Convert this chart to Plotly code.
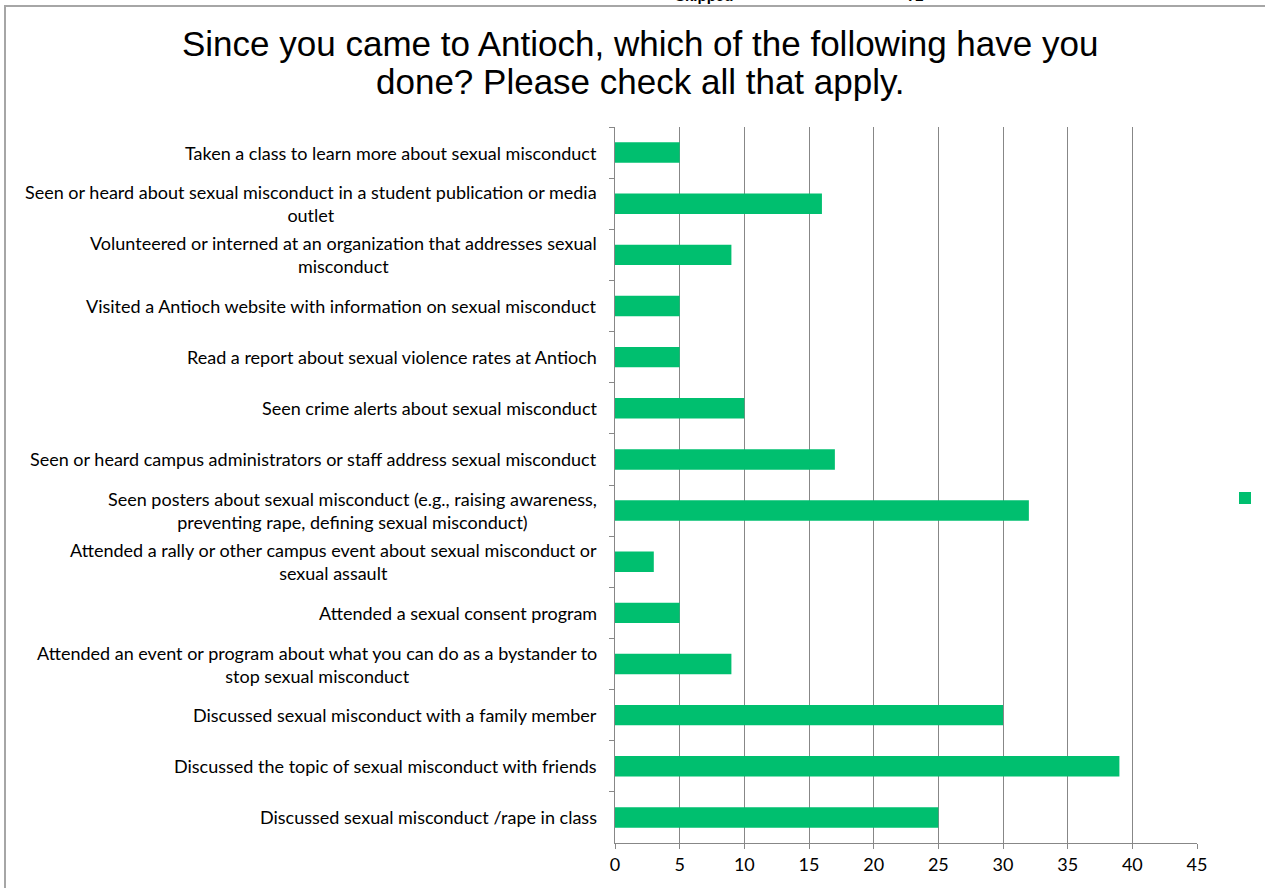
import plotly.graph_objects as go

categories = [
    "Taken a class to learn more about sexual misconduct",
    "Seen or heard about sexual misconduct in a student publication or media<br>outlet",
    "Volunteered or interned at an organization that addresses sexual<br>misconduct",
    "Visited a Antioch website with information on sexual misconduct",
    "Read a report about sexual violence rates at Antioch",
    "Seen crime alerts about sexual misconduct",
    "Seen or heard campus administrators or staff address sexual misconduct",
    "Seen posters about sexual misconduct (e.g., raising awareness,<br>preventing rape, defining sexual misconduct)",
    "Attended a rally or other campus event about sexual misconduct or<br>sexual assault",
    "Attended a sexual consent program",
    "Attended an event or program about what you can do as a bystander to<br>stop sexual misconduct",
    "Discussed sexual misconduct with a family member",
    "Discussed the topic of sexual misconduct with friends",
    "Discussed sexual misconduct /rape in class",
]
values = [5, 16, 9, 5, 5, 10, 17, 32, 3, 5, 9, 30, 39, 25]
x_ticks = [0, 5, 10, 15, 20, 25, 30, 35, 40, 45]
title_lines = ["Since you came to Antioch, which of the following have you",
               "done? Please check all that apply."]
header_left = "Skipped"
header_right = "72"

GREEN = "#00BF6F"
GRAY = "#878787"
LABEL_FONT = dict(family="Lato, Liberation Sans, sans-serif", size=18, color="#000000")

# plot area in pixels
L, R, T, B = 615, 1197, 127, 843
W, H = R - L, B - T
def px(xp):
    return (xp - L) / W
def py(yp):
    return (B - yp) / H

fig = go.Figure()
fig.add_trace(go.Bar(
    y=categories, x=values, orientation="h",
    marker=dict(color=GREEN, line=dict(width=0)),
    name=" ", showlegend=True,
))

for c in categories:
    fig.add_annotation(
        x=px(599), xref="paper", y=c, yref="y",
        text=c, showarrow=False, xanchor="right", yanchor="middle",
        align="center", font=LABEL_FONT,
    )

for i, line in enumerate(title_lines):
    fig.add_annotation(x=px(640), y=py([43, 81][i]), xref="paper", yref="paper",
                       text=line, showarrow=False, xanchor="center", yanchor="middle",
                       font=dict(family="Liberation Sans, Arial", size=35, color="#000"))

for txt, cx in [(header_left, 704), (header_right, 915)]:
    fig.add_annotation(x=px(cx), y=py(6), xref="paper", yref="paper",
                       text="<b>" + txt + "</b>", showarrow=False,
                       xanchor="center", yanchor="bottom",
                       font=dict(family="Liberation Sans, Arial", size=15, color="#000"))

# border frame
fig.add_shape(type="rect", xref="paper", yref="paper",
              x0=px(5), x1=px(1300), y0=py(920), y1=py(6),
              line=dict(color="#a6a6a6", width=2), layer="below")

fig.update_layout(
    width=1265, height=888,
    margin=dict(l=L, r=1265 - R, t=T, b=888 - B, autoexpand=False),
    paper_bgcolor="white", plot_bgcolor="white",
    bargap=0.6,
    xaxis=dict(range=[0, 45], tickvals=x_ticks, ticktext=[str(v) for v in x_ticks],
               showgrid=True, gridcolor=GRAY, gridwidth=1,
               showline=True, linecolor=GRAY, linewidth=1,
               ticks="outside", ticklen=5, tickcolor=GRAY,
               tickfont=LABEL_FONT, zeroline=False, fixedrange=True),
    yaxis=dict(categoryorder="array", categoryarray=categories, autorange="reversed",
               showticklabels=False, showgrid=False,
               showline=True, linecolor=GRAY, linewidth=1,
               ticks="outside", ticklen=5, tickcolor=GRAY, tickson="boundaries",
               zeroline=False, fixedrange=True),
    legend=dict(x=px(1225), y=py(498), xanchor="left", yanchor="middle",
                bgcolor="rgba(0,0,0,0)", font=dict(size=12)),
    showlegend=True,
)

fig.write_html("out.html", config={"displayModeBar": False},
               post_script="document.body.style.margin='0px';")
